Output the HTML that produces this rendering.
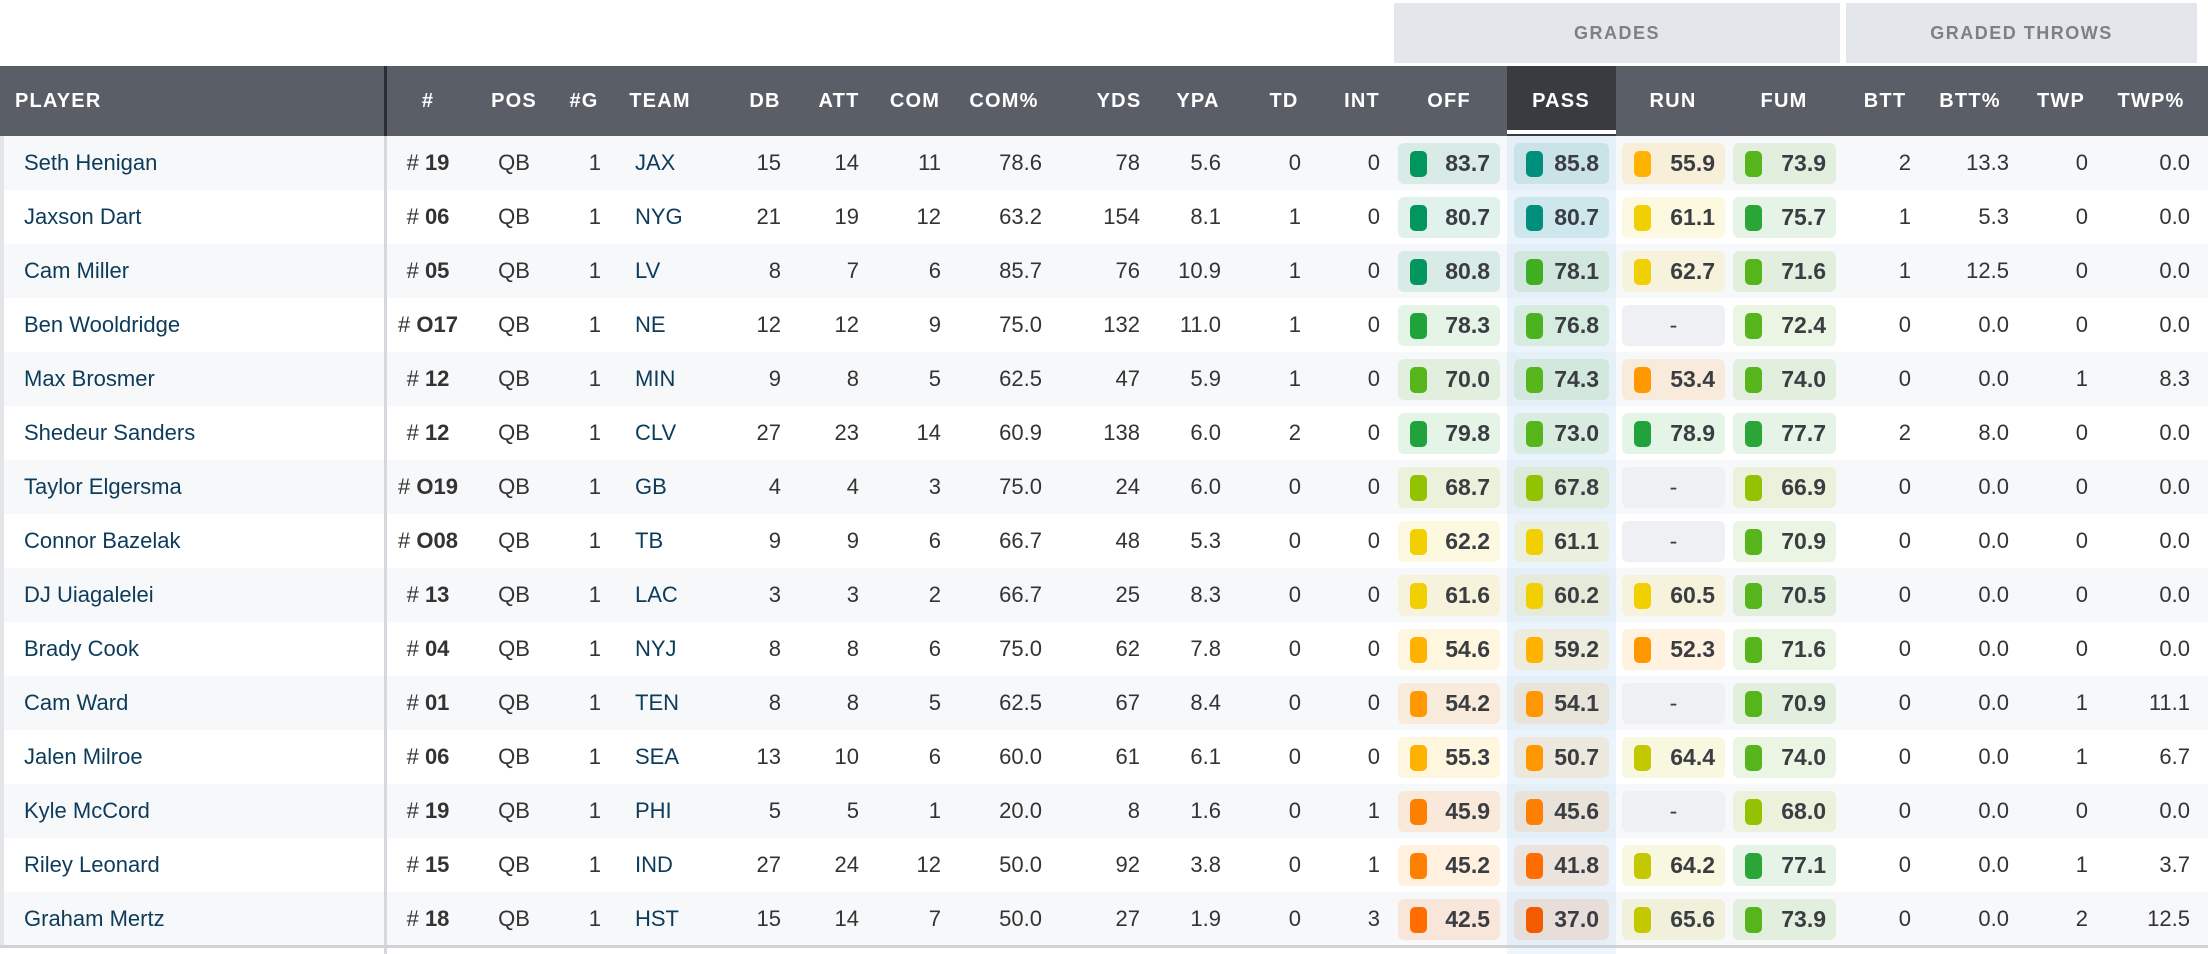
<!DOCTYPE html>
<html><head><meta charset="utf-8"><style>
*{margin:0;padding:0;box-sizing:border-box}
body{width:2208px;height:954px;background:#fff;font-family:"Liberation Sans",sans-serif;position:relative;overflow:hidden;color:#333}
.band{position:absolute;top:3px;height:60px;background:#e3e6ea;color:#7d8085;font-weight:bold;font-size:18px;letter-spacing:1.5px;text-align:center;line-height:60px}
.hdr{position:absolute;top:66px;left:0;width:2208px;height:70px;background:#5a5e66;color:#fff;font-weight:bold;font-size:20px;letter-spacing:1.2px}
.hdr span{position:absolute;top:0;line-height:70px;transform:translateX(-50%)}
.passh{position:absolute;left:1507px;top:66px;width:109px;height:70px;background:#383b40}
.passu{position:absolute;left:1507px;top:130px;width:109px;height:4px;background:#fff}
.pc{position:absolute;left:1507px;top:0;width:109px;height:54px;background:rgba(190,220,245,.3)}
.tail{position:absolute;left:1507px;top:946px;width:109px;height:8px;background:#eef6fc}
.row{position:absolute;left:0;width:2208px;height:54px;font-size:22px}
.row.o{background:#f7f8fa}
.row span{position:absolute;top:0;line-height:54px;white-space:nowrap}
.n{left:24px;color:#0d3b5a}
.nm{left:388px;width:80px;text-align:center}
.nm b{font-weight:bold}
.p{left:474px;width:80px;text-align:center}
.tm{left:635px;color:#0d3b5a}
.r{text-align:right}
.g{position:absolute;top:7px;height:41px;border-radius:6px;overflow:hidden}
.g::before{content:"";position:absolute;inset:0;background:var(--c);opacity:.12}
.g i{position:absolute;left:12px;top:8px;width:17px;height:26px;border-radius:5px;background:var(--c)}
.g em{position:absolute;right:10px;top:0;line-height:41px;font-style:normal;font-weight:bold;color:#3a3d42;font-size:23px}
.g.d{background:#eef0f3}
.g.d::before{display:none}
.g.d em{right:auto;left:0;width:100%;text-align:center;font-weight:normal}
.dv{position:absolute;left:384px;top:66px;width:3px;height:70px;background:#2b2e33}
.dvb{position:absolute;left:384px;top:136px;width:3px;height:818px;background:#d5d8dd}
.ls{position:absolute;left:0;top:136px;width:4px;height:810px;background:#e3e5e9}
.bb{position:absolute;left:0;top:945px;width:2208px;height:3px;background:#cfd2d6}
</style></head><body>
<div class="band" style="left:1394px;width:446px">GRADES</div>
<div class="band" style="left:1846px;width:351px">GRADED THROWS</div>
<div class="hdr">
<span style="left:15px;transform:none">PLAYER</span>
<span style="left:428px">#</span><span style="left:514px">POS</span><span style="left:584px">#G</span><span style="left:660px">TEAM</span><span style="left:765px">DB</span><span style="left:839px">ATT</span><span style="left:915px">COM</span><span style="left:1004px">COM%</span><span style="left:1119px">YDS</span><span style="left:1198px">YPA</span><span style="left:1284px">TD</span><span style="left:1362px">INT</span><span style="left:1449px">OFF</span>
</div>
<div class="passh"></div><div class="passu"></div>
<div class="hdr" style="background:none"><span style="left:1561px">PASS</span><span style="left:1673px">RUN</span><span style="left:1784px">FUM</span><span style="left:1885px">BTT</span><span style="left:1970px">BTT%</span><span style="left:2061px">TWP</span><span style="left:2151px">TWP%</span></div>
<div class="dv"></div>
<div id="rows"></div>
<div class="tail"></div>
<div class="dvb"></div><div class="ls"></div><div class="bb"></div>
<script>
var D=[
["Seth Henigan","19","JAX",15,14,11,"78.6",78,"5.6",0,0,"83.7","85.8","55.9","73.9",2,"13.3",0,"0.0"],
["Jaxson Dart","06","NYG",21,19,12,"63.2",154,"8.1",1,0,"80.7","80.7","61.1","75.7",1,"5.3",0,"0.0"],
["Cam Miller","05","LV",8,7,6,"85.7",76,"10.9",1,0,"80.8","78.1","62.7","71.6",1,"12.5",0,"0.0"],
["Ben Wooldridge","O17","NE",12,12,9,"75.0",132,"11.0",1,0,"78.3","76.8","-","72.4",0,"0.0",0,"0.0"],
["Max Brosmer","12","MIN",9,8,5,"62.5",47,"5.9",1,0,"70.0","74.3","53.4","74.0",0,"0.0",1,"8.3"],
["Shedeur Sanders","12","CLV",27,23,14,"60.9",138,"6.0",2,0,"79.8","73.0","78.9","77.7",2,"8.0",0,"0.0"],
["Taylor Elgersma","O19","GB",4,4,3,"75.0",24,"6.0",0,0,"68.7","67.8","-","66.9",0,"0.0",0,"0.0"],
["Connor Bazelak","O08","TB",9,9,6,"66.7",48,"5.3",0,0,"62.2","61.1","-","70.9",0,"0.0",0,"0.0"],
["DJ Uiagalelei","13","LAC",3,3,2,"66.7",25,"8.3",0,0,"61.6","60.2","60.5","70.5",0,"0.0",0,"0.0"],
["Brady Cook","04","NYJ",8,8,6,"75.0",62,"7.8",0,0,"54.6","59.2","52.3","71.6",0,"0.0",0,"0.0"],
["Cam Ward","01","TEN",8,8,5,"62.5",67,"8.4",0,0,"54.2","54.1","-","70.9",0,"0.0",1,"11.1"],
["Jalen Milroe","06","SEA",13,10,6,"60.0",61,"6.1",0,0,"55.3","50.7","64.4","74.0",0,"0.0",1,"6.7"],
["Kyle McCord","19","PHI",5,5,1,"20.0",8,"1.6",0,1,"45.9","45.6","-","68.0",0,"0.0",0,"0.0"],
["Riley Leonard","15","IND",27,24,12,"50.0",92,"3.8",0,1,"45.2","41.8","64.2","77.1",0,"0.0",1,"3.7"],
["Graham Mertz","18","HST",15,14,7,"50.0",27,"1.9",0,3,"42.5","37.0","65.6","73.9",0,"0.0",2,"12.5"]];
function col(v,p){v=parseFloat(v);if(v>=80)return p?"#008f7a":"#00965e";if(v>=78)return p?"#3fae22":"#1fa33a";if(v>=75)return p?"#4cb320":"#2aa636";if(v>=70)return "#55b51b";if(v>=66)return "#93c200";if(v>=63)return "#c3c800";if(v>=60)return "#f2cf00";if(v>=54.5)return "#ffb300";if(v>=50)return "#ff9800";if(v>=45)return "#ff8000";if(v>=40)return "#ff6d00";return "#f45a00";}
var R=[781,859,941,1042,1140,1221,1301,1380];var R2=[1911,2009,2088,2190];var B=[[1398,102],[1514,95],[1622,103],[1733,103]];
var h="";
D.forEach(function(d,i){
h+='<div class="row'+(i%2==0?' o':'')+'" style="top:'+(136+i*54)+'px"><div class="pc"></div>';
h+='<span class="n">'+d[0]+'</span><span class="nm"># <b>'+d[1]+'</b></span><span class="p">QB</span><span class="r" style="right:'+(2208-601)+'px">1</span><span class="tm">'+d[2]+'</span>';
for(var k=0;k<8;k++)h+='<span class="r" style="right:'+(2208-R[k])+'px">'+d[3+k]+'</span>';
for(k=0;k<4;k++){var v=d[11+k];if(v=="-")h+='<div class="g d" style="left:'+B[k][0]+'px;width:'+B[k][1]+'px"><em>-</em></div>';else h+='<div class="g" style="--c:'+col(v,k==1)+';left:'+B[k][0]+'px;width:'+B[k][1]+'px"><i></i><em>'+v+'</em></div>';}
for(k=0;k<4;k++)h+='<span class="r" style="right:'+(2208-R2[k])+'px">'+d[15+k]+'</span>';
h+='</div>';});
document.getElementById("rows").innerHTML=h;
</script>
</body></html>
